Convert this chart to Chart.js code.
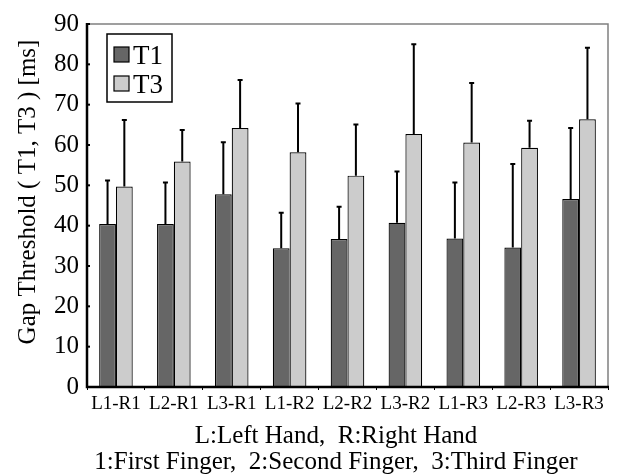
<!DOCTYPE html>
<html>
<head>
<meta charset="utf-8">
<script src="https://cdn.jsdelivr.net/npm/chart.js@4/dist/chart.umd.min.js"></script>
<style>
  html, body { margin: 0; padding: 0; background: #ffffff; }
  #wrap { width: 617px; height: 476px; }
</style>
</head>
<body>
<div id="wrap"><canvas id="c" width="617" height="476"></canvas></div>
<script>
// Finger pair conditions (L = left hand finger, R = right hand finger)
const categories = ['L1-R1', 'L2-R1', 'L3-R1', 'L1-R2', 'L2-R2', 'L3-R2', 'L1-R3', 'L2-R3', 'L3-R3'];

// Mean gap thresholds [ms]
const t1Means = [40.4, 40.4, 47.8, 34.4, 36.7, 40.7, 36.8, 34.6, 46.6];
const t3Means = [49.7, 55.9, 64.2, 58.2, 52.4, 62.7, 60.6, 59.3, 66.4];

// Standard deviations (drawn as upward error bars)
const t1SD = [10.8, 10.3, 12.9, 8.8, 8.0, 12.7, 13.9, 20.7, 17.6];
const t3SD = [16.5, 7.8, 11.9, 12.1, 12.7, 22.3, 14.8, 6.7, 17.7];

const yTicks = [0, 10, 20, 30, 40, 50, 60, 70, 80, 90];

const seriesLabels = ['T1', 'T3'];
const seriesColors = ['#666666', '#cccccc'];
const seriesSD = [t1SD, t3SD];

const yTitle = 'Gap Threshold ( T1, T3 ) [ms]';
const xTitle = ['L:Left Hand,  R:Right Hand', '1:First Finger,  2:Second Finger,  3:Third Finger'];

const SERIF = '"Liberation Serif", "Times New Roman", serif';

// Upward error bars with a short cap
const errorBars = {
  id: 'errorBars',
  afterDatasetsDraw(chart) {
    const { ctx, scales: { y } } = chart;
    ctx.save();
    ctx.strokeStyle = '#000000';
    ctx.lineWidth = 2;
    chart.data.datasets.forEach((ds, i) => {
      const meta = chart.getDatasetMeta(i);
      meta.data.forEach((bar, j) => {
        const top = y.getPixelForValue(ds.data[j] + seriesSD[i][j]);
        ctx.beginPath();
        ctx.moveTo(bar.x, bar.y);
        ctx.lineTo(bar.x, top);
        ctx.moveTo(bar.x - 2.5, top);
        ctx.lineTo(bar.x + 2.5, top);
        ctx.stroke();
      });
    });
    ctx.restore();
  }
};

// Plot frame: heavy left/bottom axes, thin grey top/right edges, inward y ticks,
// plus both axis titles
const frame = {
  id: 'frame',
  afterDraw(chart) {
    const { ctx, chartArea: a, scales: { y } } = chart;
    ctx.save();
    ctx.strokeStyle = '#808080';
    ctx.lineWidth = 1.5;
    ctx.beginPath();
    ctx.moveTo(a.left, a.top);
    ctx.lineTo(a.right, a.top);
    ctx.lineTo(a.right, a.bottom);
    ctx.stroke();

    ctx.strokeStyle = '#000000';
    ctx.lineWidth = 2.5;
    ctx.beginPath();
    ctx.moveTo(a.left, a.top - 1);
    ctx.lineTo(a.left, a.bottom);
    ctx.lineTo(a.right + 1, a.bottom);
    ctx.stroke();

    ctx.lineWidth = 2;
    yTicks.forEach(v => {
      const py = y.getPixelForValue(v);
      ctx.beginPath();
      ctx.moveTo(a.left, py);
      ctx.lineTo(a.left + 3, py);
      ctx.stroke();
    });

    ctx.fillStyle = '#000000';
    ctx.font = '25px ' + SERIF;
    ctx.textAlign = 'center';
    ctx.textBaseline = 'middle';
    xTitle.forEach((line, i) => ctx.fillText(line, 336, 436 + i * 26));

    ctx.translate(28, 192);
    ctx.rotate(-Math.PI / 2);
    ctx.fillText(yTitle, 0, 0);
    ctx.restore();
  }
};

// Boxed legend in the upper-left corner of the plot
const boxLegend = {
  id: 'boxLegend',
  afterDraw(chart) {
    const { ctx, chartArea: a } = chart;
    const x0 = a.left + 20, y0 = a.top + 10, w = 65, h = 68;
    ctx.save();
    ctx.strokeStyle = '#000000';
    ctx.lineWidth = 1.5;
    ctx.strokeRect(x0, y0, w, h);
    ctx.font = '27px ' + SERIF;
    ctx.textBaseline = 'alphabetic';
    ctx.textAlign = 'left';
    seriesLabels.forEach((lab, i) => {
      const sy = y0 + 13 + i * 29;
      ctx.fillStyle = seriesColors[i];
      ctx.fillRect(x0 + 7, sy, 15, 15);
      ctx.lineWidth = 1.2;
      ctx.strokeRect(x0 + 7, sy, 15, 15);
      ctx.fillStyle = '#000000';
      ctx.fillText(lab, x0 + 26, sy + 17);
    });
    ctx.restore();
  }
};

new Chart(document.getElementById('c'), {
  type: 'bar',
  data: {
    labels: categories,
    datasets: [
      { label: seriesLabels[0], data: t1Means, backgroundColor: seriesColors[0],
        borderColor: '#000000', borderWidth: 1.2 },
      { label: seriesLabels[1], data: t3Means, backgroundColor: seriesColors[1],
        borderColor: '#000000', borderWidth: 1.2 }
    ]
  },
  options: {
    responsive: false,
    animation: false,
    devicePixelRatio: 1,
    layout: { padding: { left: 0, right: 9, top: 24, bottom: 0 } },
    datasets: { bar: { categoryPercentage: 0.58, barPercentage: 1.0 } },
    plugins: {
      legend: { display: false },
      tooltip: { enabled: false }
    },
    scales: {
      x: {
        afterFit: s => { s.height = 89; },
        border: { display: false },
        grid: { display: true, offset: true, drawOnChartArea: false, drawTicks: true,
                tickLength: 3, color: '#000000', lineWidth: 1 },
        ticks: { color: '#000000', padding: 3, maxRotation: 0, autoSkip: false,
                 font: { family: SERIF, size: 19 } },
        title: { display: false }
      },
      y: {
        min: 0,
        max: 90,
        afterFit: s => { s.width = 87; },
        afterBuildTicks: s => { s.ticks = yTicks.map(v => ({ value: v })); },
        border: { display: false },
        grid: { display: false, drawTicks: false },
        ticks: { color: '#000000', padding: 8, font: { family: SERIF, size: 25 } },
        title: { display: false }
      }
    }
  },
  plugins: [errorBars, frame, boxLegend]
});
</script>
</body>
</html>
